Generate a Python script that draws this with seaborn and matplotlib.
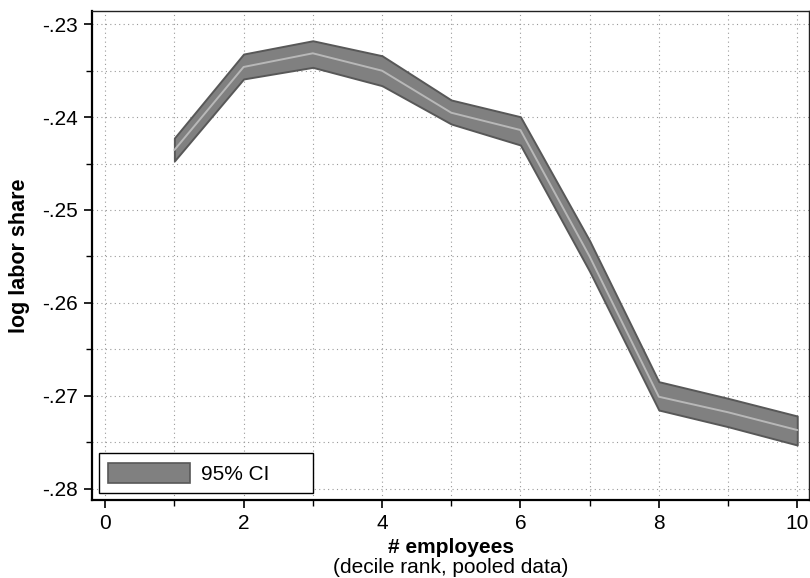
import numpy as np
import pandas as pd
import seaborn as sns
import matplotlib
matplotlib.use("Agg")
import matplotlib.pyplot as plt
from matplotlib.patches import Patch
from matplotlib.ticker import FixedLocator, MultipleLocator

# Decile rank of employment and estimated log labor share with 95% CI
decile = [1, 2, 3, 4, 5, 6, 7, 8, 9, 10]
log_share = [-0.24355, -0.23462, -0.23315, -0.23502, -0.23954,
             -0.24140, -0.25500, -0.27008, -0.27175, -0.27366]
ci_upper = [-0.24226, -0.23323, -0.23180, -0.23341, -0.23817,
            -0.23997, -0.25330, -0.26846, -0.27025, -0.27215]
ci_lower = [-0.24473, -0.23591, -0.23466, -0.23663, -0.24075,
            -0.24301, -0.25660, -0.27151, -0.27330, -0.27527]

x_ticks = [0, 2, 4, 6, 8, 10]
y_ticks = [-0.28, -0.27, -0.26, -0.25, -0.24, -0.23]
y_tick_labels = ["-.28", "-.27", "-.26", "-.25", "-.24", "-.23"]

df = pd.DataFrame({"decile": decile, "log_share": log_share,
                   "upper": ci_upper, "lower": ci_lower})

sns.set_theme(style="white")
plt.rcParams["font.family"] = ["Liberation Sans", "DejaVu Sans"]
plt.rcParams["text.color"] = "black"
plt.rcParams["axes.labelcolor"] = "black"
plt.rcParams["xtick.color"] = "black"
plt.rcParams["ytick.color"] = "black"

fig = plt.figure(figsize=(8.1, 5.78), dpi=100)
ax = fig.add_axes([0.1136, 0.135, 0.8852, 0.846])

band_face = "#808080"
band_edge = "#585858"
ax.fill_between(df["decile"], df["lower"], df["upper"],
                facecolor=band_face, edgecolor=band_edge, linewidth=1.4,
                zorder=3)
sns.lineplot(data=df, x="decile", y="log_share", ax=ax, color="#b8b8b8",
             linewidth=1.4, zorder=4, legend=False)

ax.set_xlim(-0.19, 10.17)
ax.set_ylim(-0.28118, -0.2286)

ax.xaxis.set_major_locator(FixedLocator(x_ticks))
ax.xaxis.set_minor_locator(MultipleLocator(1))
ax.yaxis.set_major_locator(FixedLocator(y_ticks))
ax.set_yticklabels(y_tick_labels)
ax.yaxis.set_minor_locator(MultipleLocator(0.005))

grid_style = dict(color="#9a9a9a", linewidth=0.8, linestyle=(0, (1, 3)))
ax.grid(True, which="both", axis="both", **grid_style)
ax.set_axisbelow(True)

ax.tick_params(axis="both", which="major", direction="out", length=6,
               width=1.2, colors="black", labelsize=15, pad=4,
               bottom=True, left=True)
ax.tick_params(axis="both", which="minor", direction="out", length=4,
               width=1.0, colors="black", bottom=True, left=True)

for side in ["left", "bottom"]:
    ax.spines[side].set_color("black")
    ax.spines[side].set_linewidth(1.6)
for side in ["top", "right"]:
    ax.spines[side].set_color("#222222")
    ax.spines[side].set_linewidth(1.0)

ax.set_ylabel("log labor share", fontsize=15.5, fontweight="bold",
              labelpad=9, color="black")
ax.set_xlabel("")
ax.text(0.5, -0.098, "# employees", transform=ax.transAxes, ha="center",
        va="center", fontsize=15, fontweight="bold", color="black")
ax.text(0.5, -0.138, "(decile rank, pooled data)", transform=ax.transAxes,
        ha="center", va="center", fontsize=15, color="black")

handle = Patch(facecolor=band_face, edgecolor=band_edge, linewidth=1.2)
leg = ax.legend([handle], ["95% CI"], loc="lower left",
                bbox_to_anchor=(0.0098, 0.0143, 0.2985, 0.082),
                mode="expand", fontsize=15, frameon=True, fancybox=False,
                edgecolor="black", framealpha=1, handlelength=3.9,
                handleheight=1.1, handletextpad=0.55, borderpad=0.45,
                borderaxespad=0.0)
leg.get_frame().set_linewidth(1.0)
leg.set_zorder(5)

fig.savefig("out.png", dpi=100)
